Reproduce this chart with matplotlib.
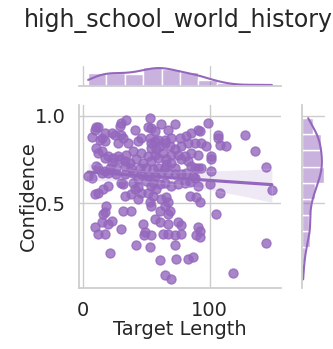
import pandas as pd
import seaborn as sns
import matplotlib.pyplot as plt

# (target length, confidence) pairs
points = [
    (52.6, 0.985), (53.9, 0.928), (34.2, 0.972), (30.3, 0.957), (28.9, 0.942), (10.5, 0.932),
    (11.8, 0.932), (9.2, 0.919), (40.8, 0.919), (51.3, 0.934), (61.8, 0.953), (72.4, 0.953),
    (67.1, 0.915), (56.6, 0.909), (98.7, 0.957), (90.8, 0.919), (92.1, 0.909), (85.5, 0.900),
    (81.6, 0.881), (76.3, 0.872), (69.7, 0.872), (64.5, 0.862), (59.2, 0.862), (56.6, 0.853),
    (53.9, 0.843), (22.4, 0.900), (25.0, 0.891), (30.3, 0.891), (31.6, 0.872), (17.1, 0.900),
    (14.5, 0.872), (7.1, 0.877), (13.2, 0.862), (17.1, 0.853), (27.6, 0.843), (35.5, 0.843),
    (43.4, 0.853), (46.1, 0.872), (52.6, 0.872), (60.5, 0.825), (57.9, 0.806), (53.9, 0.815),
    (64.5, 0.843), (68.4, 0.825), (72.4, 0.806), (77.6, 0.825), (82.9, 0.843), (88.2, 0.843),
    (93.4, 0.843), (97.4, 0.825), (106.6, 0.891), (106.6, 0.872), (107.9, 0.834), (113.2, 0.825),
    (127.6, 0.891), (135.5, 0.796), (101.3, 0.768), (101.3, 0.749), (90.8, 0.777), (85.5, 0.787),
    (80.3, 0.768), (77.6, 0.749), (82.9, 0.740), (75.0, 0.777), (69.7, 0.777), (63.2, 0.787),
    (56.6, 0.777), (51.3, 0.768), (46.1, 0.787), (39.5, 0.796), (34.2, 0.777), (27.6, 0.768),
    (23.7, 0.758), (19.7, 0.768), (11.8, 0.787), (10.5, 0.815), (14.5, 0.796), (17.1, 0.758),
    (22.4, 0.730), (28.9, 0.749), (32.9, 0.740), (36.8, 0.730), (42.1, 0.749), (47.4, 0.730),
    (53.9, 0.740), (59.2, 0.758), (65.8, 0.749), (69.7, 0.730), (65.8, 0.721), (72.4, 0.702),
    (64.5, 0.702), (59.2, 0.702), (55.3, 0.692), (50.0, 0.702), (44.7, 0.702), (38.2, 0.702),
    (32.9, 0.711), (26.3, 0.702), (21.1, 0.702), (17.1, 0.683), (11.8, 0.702), (10.5, 0.711),
    (90.8, 0.702), (88.2, 0.702), (93.4, 0.702), (85.5, 0.711), (81.6, 0.674), (77.6, 0.664),
    (72.4, 0.664), (67.1, 0.674), (61.8, 0.674), (56.6, 0.655), (51.3, 0.655), (46.1, 0.664),
    (39.5, 0.674), (32.9, 0.664), (26.3, 0.664), (19.7, 0.674), (14.5, 0.674), (3.9, 0.655),
    (6.6, 0.645), (144.7, 0.708), (101.3, 0.683), (100.0, 0.608), (107.9, 0.560), (149.2, 0.575),
    (84.2, 0.621), (88.2, 0.645), (90.8, 0.598), (86.8, 0.655), (80.3, 0.617), (75.0, 0.608),
    (69.7, 0.598), (64.5, 0.617), (60.5, 0.608), (55.3, 0.617), (50.0, 0.626), (43.4, 0.636),
    (39.5, 0.617), (43.4, 0.589), (40.8, 0.579), (46.1, 0.560), (51.3, 0.560), (55.3, 0.542),
    (57.9, 0.579), (53.9, 0.598), (30.3, 0.617), (31.6, 0.608), (19.7, 0.598), (15.8, 0.579),
    (9.2, 0.551), (11.8, 0.560), (32.9, 0.542), (38.2, 0.551), (43.4, 0.523), (52.6, 0.504),
    (53.9, 0.485), (61.8, 0.523), (65.8, 0.532), (67.1, 0.504), (64.5, 0.485), (60.5, 0.457),
    (68.4, 0.457), (67.1, 0.438), (84.2, 0.542), (89.5, 0.532), (92.1, 0.504), (105.3, 0.438),
    (18.4, 0.485), (17.1, 0.447), (15.8, 0.438), (31.6, 0.457), (38.2, 0.457), (47.4, 0.381),
    (48.7, 0.334), (48.2, 0.315), (56.6, 0.409), (60.5, 0.391), (67.1, 0.381), (75.0, 0.391),
    (77.6, 0.372), (90.8, 0.362), (92.1, 0.343), (89.5, 0.315), (92.1, 0.306), (77.6, 0.325),
    (72.4, 0.315), (67.1, 0.325), (63.2, 0.325), (53.9, 0.315), (22.4, 0.400), (19.7, 0.381),
    (14.5, 0.391), (9.2, 0.362), (11.8, 0.325), (17.1, 0.325), (30.3, 0.353), (42.1, 0.258),
    (52.6, 0.249), (72.4, 0.258), (21.1, 0.217), (60.5, 0.177), (73.7, 0.183), (82.9, 0.183),
    (86.8, 0.192), (118.4, 0.098), (64.5, 0.089), (69.7, 0.064), (144.7, 0.274),
]
x_ticks = [0, 100]
y_ticks = [0.5, 1.0]

df = pd.DataFrame(points, columns=["Target Length", "Confidence"])

sns.set_theme(style="whitegrid")
g = sns.jointplot(data=df, x="Target Length", y="Confidence", kind="reg",
                  color="#9467bd", height=3.33,
                  joint_kws={"scatter_kws": {"s": 42}})
fig = g.figure
fig.set_size_inches(3.33, 3.49)

g.ax_joint.set_position([0.237, 0.175, 0.607, 0.524])
g.ax_marg_x.set_position([0.237, 0.754, 0.607, 0.057])
g.ax_marg_y.set_position([0.907, 0.175, 0.069, 0.524])

g.ax_joint.set_xticks(x_ticks)
g.ax_joint.set_yticks(y_ticks)
g.ax_joint.set_xlabel("Target Length", fontsize=14, labelpad=0)
g.ax_joint.set_ylabel("Confidence", fontsize=14, labelpad=-2)
g.ax_joint.tick_params(labelsize=14)
g.ax_joint.set_ylim(0.015, 1.06)

fig.text(0.535, 0.94, "high_school_world_history", ha="center", va="center", fontsize=17)

fig.savefig("out.png", dpi=100)
